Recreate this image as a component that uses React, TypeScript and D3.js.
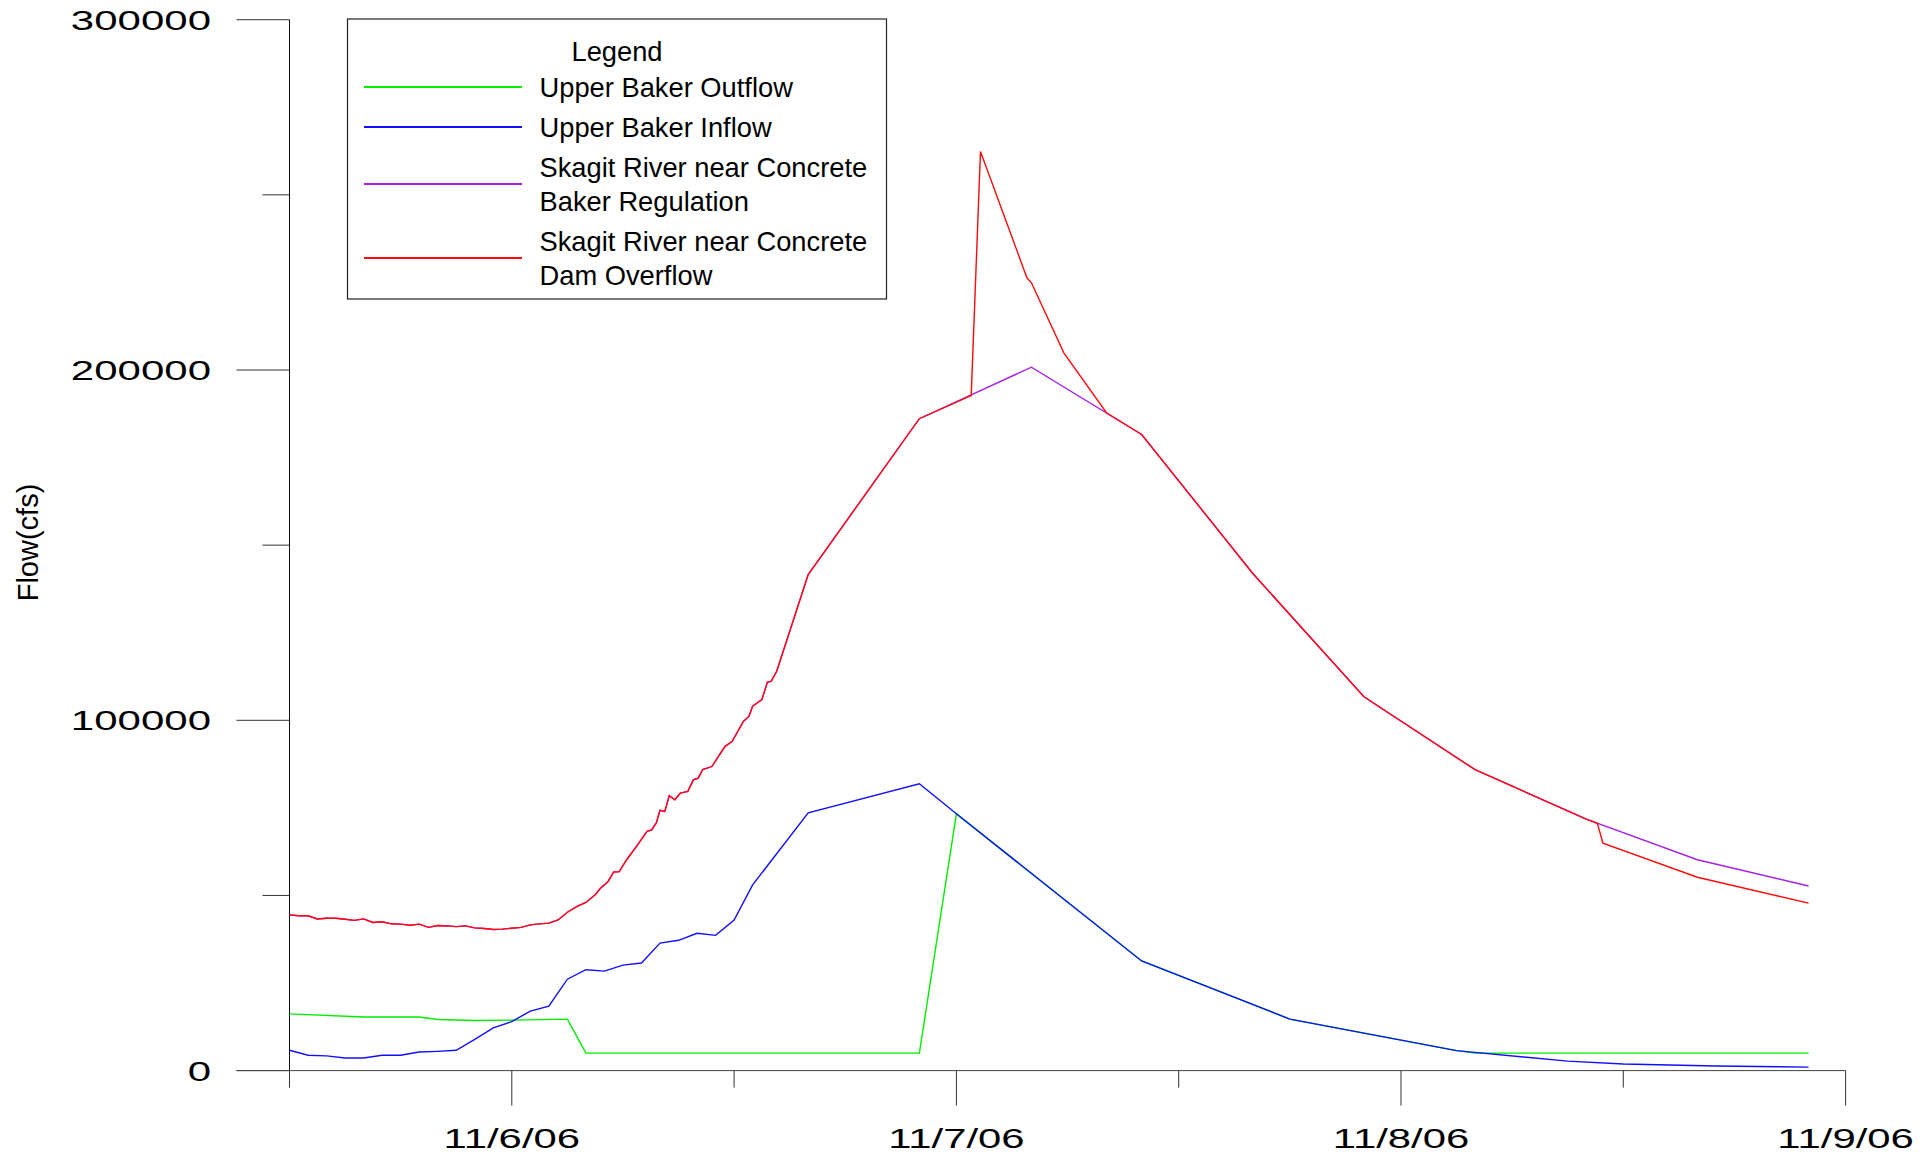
import * as d3 from "d3";

const START = new Date(2006, 10, 5, 12);
const END = new Date(2006, 10, 9);

// hours after 11/5/06 12:00, flow in cfs
const outflowHours = [0, 4, 7, 8, 10, 12, 15, 16, 34, 36, 46, 54, 63, 64, 82];
const outflowCfs = [16200, 15300, 15300, 14600, 14300, 14400, 14700, 5000, 5000, 73300, 31300, 14700, 5700, 5000, 5000];

const inflowHours = [
  0, 1, 2, 3, 4, 5, 6, 7, 8, 9, 10, 11, 12, 13, 14, 15, 16, 17, 18, 19, 20, 21, 22, 23, 24, 25,
  28, 34, 36, 46, 54, 63, 69, 72, 77, 82,
];
const inflowCfs = [
  5800, 4400, 4200, 3600, 3600, 4400, 4400, 5300, 5500, 5800, 8900, 12200, 14000, 17000, 18400,
  26100, 28800, 28400, 30100, 30700, 36400, 37200, 39200, 38600, 43000, 53000,
  73600, 81900, 73300, 31300, 14700, 5700, 2700, 1900, 1300, 1000,
];

const overflowHours = [
  0, 0.5, 1, 1.5, 2, 2.5, 3, 3.5, 4, 4.5, 5, 5.5, 6, 6.5, 7, 7.5, 8, 8.5, 9, 9.5, 10, 10.5, 11,
  11.5, 12, 12.5, 13, 13.5, 14, 14.5, 15, 15.5, 16, 16.5, 16.8, 17.2, 17.5, 17.8, 18.2, 18.8,
  19.3, 19.55, 19.8, 20, 20.26, 20.5, 20.8, 21.1, 21.5, 21.8, 22.06, 22.3, 22.8, 23.5, 23.9,
  24.5, 24.8, 25, 25.5, 25.8, 26, 26.3, 28, 34, 36.8, 37.3, 39.8, 40.05, 41.8, 44.1, 46, 52, 58,
  64, 70, 70.6, 70.9, 76, 82,
];
const overflowCfs = [
  44450, 44200, 44200, 43300, 43500, 43500, 43200, 42900, 43300, 42300, 42500, 41900, 41800,
  41500, 41800, 40900, 41400, 41300, 41100, 41300, 40750, 40550, 40300, 40400, 40650, 40900,
  41600, 41900, 42100, 43000, 45200, 46800, 48000, 50200, 52100, 54000, 56700, 56800, 60200,
  64500, 68300, 68700, 70700, 74300, 74000, 78500, 77300, 79200, 79700, 83000, 83500, 85900,
  86800, 92500, 94000, 99700, 101100, 104000, 105900, 110900, 111100, 114000, 141600, 186100,
  192700, 262400, 226400, 224900, 204900, 187800, 181600, 141900, 106700, 85900, 71800, 70600,
  64900, 55200, 47800,
];

// regulation follows the overflow series up to hour 34, then these points
const regulationTailHours = [40.05, 46, 52, 58, 64, 70, 76, 82];
const regulationTailCfs = [200800, 181600, 141900, 106700, 85900, 71800, 60200, 52700];

const yTicks = [0, 50000, 100000, 150000, 200000, 250000, 300000];

type Pt = { t: Date; v: number };

const toSeries = (hours: number[], cfs: number[]): Pt[] =>
  hours.map((h, i) => ({ t: new Date(+START + h * 3600e3), v: cfs[i] }));

const overflow = toSeries(overflowHours, overflowCfs);
const regulation = overflow
  .filter((d) => +d.t <= +START + 34 * 3600e3)
  .concat(toSeries(regulationTailHours, regulationTailCfs));

const series = [
  { label: ["Upper Baker Outflow"], color: "#00ee00", pts: toSeries(outflowHours, outflowCfs) },
  { label: ["Upper Baker Inflow"], color: "#1010ff", pts: toSeries(inflowHours, inflowCfs) },
  { label: ["Skagit River near Concrete", "Baker Regulation"], color: "#a620e8", pts: regulation },
  { label: ["Skagit River near Concrete", "Dam Overflow"], color: "#ff0a0a", pts: overflow },
];

const FONT = "'Liberation Sans', Arial, sans-serif";

export default function App() {
  const width = 1932;
  const height = 1154;

  const x = d3.scaleTime().domain([START, END]).range([289.5, 1845.6]);
  const y = d3.scaleLinear().domain([0, 300000]).range([1070.6, 19.7]);
  const x0 = x(START);

  const line = d3
    .line<Pt>()
    .x((d) => x(d.t))
    .y((d) => y(d.v));

  const xTicks = x.ticks(d3.timeHour.every(12)!);
  const fmt = d3.timeFormat("%-m/%-d/%y");

  // legend layout
  const lg = { x: 347.5, y: 19, w: 539, h: 280 };
  const lineH = 34;
  let c = 87;
  const legendRows = series.map((s, i) => {
    if (i > 0) {
      const prev = series[i - 1].label.length;
      c += (prev * lineH) / 2 + (s.label.length * lineH) / 2 + 6;
    }
    return { ...s, cy: c };
  });

  return (
    <div style={{ position: "absolute", left: 0, top: 0 }}>
      <svg width={width} height={height} style={{ display: "block", background: "#fff" }}>
        {/* y axis */}
        <line x1={x0} x2={x0} y1={y(300000)} y2={y(0)} stroke="#111" />
        {yTicks.map((v) => {
          const major = v % 100000 === 0;
          return (
            <g key={v}>
              <line x1={x0 - (major ? 53 : 27)} x2={x0} y1={y(v)} y2={y(v)} stroke="#333" />
              {major && (
                <text
                  transform={`translate(211,${y(v) + 10}) scale(1.5,1)`}
                  textAnchor="end"
                  fontSize={28}
                  fontFamily={FONT}
                  fill="#000"
                >
                  {v}
                </text>
              )}
            </g>
          );
        })}
        <text
          transform="translate(38,542.5) rotate(-90)"
          textAnchor="middle"
          fontSize={29}
          fontFamily={FONT}
          fill="#000"
        >
          Flow(cfs)
        </text>

        {/* x axis */}
        <line x1={x0 - 53} x2={x(END)} y1={y(0)} y2={y(0)} stroke="#444" />
        {xTicks.map((t) => {
          const major = t.getHours() === 0;
          return (
            <g key={+t}>
              <line x1={x(t)} x2={x(t)} y1={y(0)} y2={y(0) + (major ? 35 : 17)} stroke="#333" />
              {major && (
                <text
                  transform={`translate(${x(t)},1147.5) scale(1.55,1)`}
                  textAnchor="middle"
                  fontSize={27}
                  fontFamily={FONT}
                  fill="#000"
                >
                  {fmt(t)}
                </text>
              )}
            </g>
          );
        })}

        {/* series */}
        {series.map((s) => (
          <path key={s.color} d={line(s.pts) ?? ""} fill="none" stroke={s.color} strokeWidth={1.4} />
        ))}

        {/* legend */}
        <rect x={lg.x} y={lg.y} width={lg.w} height={lg.h} fill="#fff" stroke="#222" strokeWidth={1.2} />
        <text x={lg.x + lg.w / 2} y={61.4} textAnchor="middle" fontSize={27.3} fontFamily={FONT}>
          Legend
        </text>
        {legendRows.map((r) => (
          <g key={r.color}>
            <line x1={364} x2={522} y1={r.cy} y2={r.cy} stroke={r.color} strokeWidth={1.8} />
            {r.label.map((txt, k) => (
              <text
                key={k}
                x={539.5}
                y={r.cy + (k - (r.label.length - 1) / 2) * lineH + 9.7}
                fontSize={27.3}
                fontFamily={FONT}
                fill="#000"
              >
                {txt}
              </text>
            ))}
          </g>
        ))}
      </svg>
    </div>
  );
}
